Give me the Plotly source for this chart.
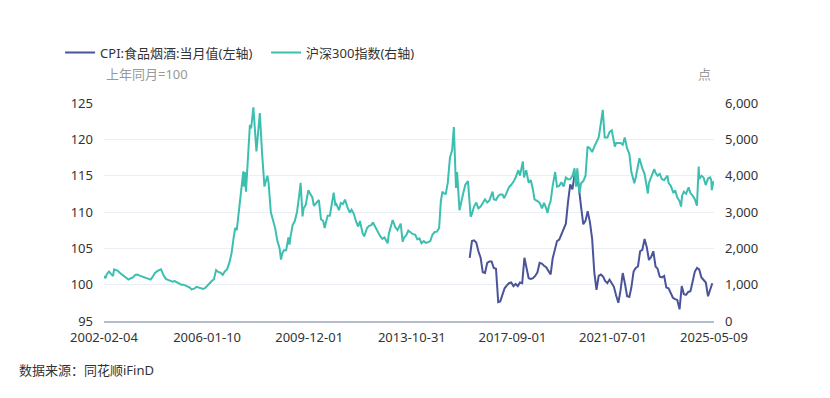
import plotly.graph_objects as go

# ---------------- data ----------------
csi_dates = [
 "2002-02-04","2002-02-25","2002-03-15","2002-04-15","2002-05-15","2002-06-10","2002-06-25","2002-07-15","2002-08-15","2002-09-15","2002-10-15","2002-11-15","2002-12-15",
 "2003-01-10","2003-02-15","2003-03-15","2003-04-15","2003-05-15","2003-06-15","2003-07-15","2003-08-15","2003-09-15","2003-10-15","2003-11-15","2003-12-15",
 "2004-01-15","2004-02-15","2004-03-15","2004-04-08","2004-05-15","2004-06-15","2004-07-15","2004-08-15","2004-09-15","2004-10-15","2004-11-15","2004-12-15",
 "2005-01-15","2005-02-15","2005-03-15","2005-04-15","2005-05-15","2005-06-06","2005-07-15","2005-08-15","2005-09-15","2005-10-15","2005-11-15","2005-12-15",
 "2006-01-15","2006-02-15","2006-03-15","2006-04-15","2006-05-15","2006-06-15","2006-07-15","2006-08-15","2006-09-15","2006-10-15","2006-11-15","2006-12-15",
 "2007-01-15","2007-02-05","2007-02-27","2007-03-18","2007-04-15","2007-05-04","2007-05-29","2007-06-05","2007-06-20","2007-07-05","2007-07-31","2007-08-15","2007-08-29","2007-09-15","2007-10-16","2007-11-28","2007-12-15",
 "2008-01-14","2008-02-15","2008-03-18","2008-04-28","2008-05-15","2008-06-15","2008-07-15","2008-08-15","2008-09-15","2008-10-15","2008-11-04","2008-11-20","2008-12-15",
 "2009-01-15","2009-02-15","2009-03-02","2009-03-15","2009-04-15","2009-05-15","2009-06-15","2009-07-15","2009-08-04","2009-08-31","2009-09-15","2009-10-15","2009-11-20","2009-12-15",
 "2010-01-15","2010-02-05","2010-03-15","2010-04-15","2010-05-15","2010-06-15","2010-07-05","2010-08-15","2010-09-15","2010-10-15","2010-11-08","2010-11-30","2010-12-15",
 "2011-01-20","2011-02-15","2011-03-15","2011-04-15","2011-05-15","2011-06-20","2011-07-15","2011-08-15","2011-09-15","2011-10-15","2011-11-08","2011-12-15",
 "2012-01-06","2012-02-15","2012-03-15","2012-04-15","2012-05-07","2012-06-15","2012-07-15","2012-08-15","2012-09-15","2012-10-15","2012-11-28","2012-12-15",
 "2013-01-15","2013-02-06","2013-03-15","2013-04-15","2013-05-29","2013-06-25","2013-07-15","2013-08-15","2013-09-12","2013-10-15","2013-11-15","2013-12-15",
 "2014-01-15","2014-02-15","2014-03-15","2014-04-15","2014-05-15","2014-06-15","2014-07-15","2014-08-15","2014-09-15","2014-10-15","2014-11-15","2014-12-09","2014-12-31",
 "2015-01-15","2015-02-15","2015-03-15","2015-04-15","2015-05-15","2015-06-08","2015-07-08","2015-07-23","2015-08-26","2015-09-15","2015-10-15","2015-11-15","2015-12-22",
 "2016-01-28","2016-02-15","2016-03-15","2016-04-15","2016-05-15","2016-06-15","2016-07-15","2016-08-15","2016-09-15","2016-10-15","2016-11-29","2016-12-15",
 "2017-01-15","2017-02-15","2017-03-15","2017-04-15","2017-05-10","2017-06-15","2017-07-15","2017-08-15","2017-09-15","2017-10-15","2017-11-22","2017-12-15",
 "2018-01-24","2018-02-09","2018-03-12","2018-04-15","2018-05-15","2018-06-15","2018-07-05","2018-08-15","2018-09-15","2018-10-18","2018-11-15","2018-12-15",
 "2019-01-03","2019-01-20","2019-02-15","2019-03-15","2019-04-19","2019-05-15","2019-06-15","2019-07-15","2019-08-15","2019-09-15","2019-10-15","2019-11-15","2019-12-15",
 "2020-01-14","2020-02-03","2020-02-21","2020-03-23","2020-04-15","2020-05-15","2020-06-15","2020-07-13","2020-08-15","2020-09-15","2020-10-15","2020-11-15","2020-12-15",
 "2021-01-15","2021-02-10","2021-03-09","2021-04-15","2021-05-15","2021-06-15","2021-07-28","2021-08-15","2021-09-15","2021-10-15","2021-11-15","2021-12-13",
 "2022-01-15","2022-02-15","2022-03-15","2022-04-26","2022-05-15","2022-07-05","2022-08-15","2022-09-15","2022-10-31","2022-11-15","2022-12-15",
 "2023-01-28","2023-02-15","2023-03-15","2023-04-15","2023-05-15","2023-06-15","2023-07-31","2023-08-15","2023-09-15","2023-10-23","2023-11-15","2023-12-15",
 "2024-01-15","2024-02-05","2024-02-20","2024-03-15","2024-04-15","2024-05-20","2024-06-15","2024-07-15","2024-08-15","2024-09-13","2024-10-08","2024-10-15","2024-11-15","2024-12-15",
 "2025-01-13","2025-02-15","2025-03-15","2025-04-01","2025-04-08","2025-04-25","2025-05-09",
]
csi_values = [
 1240,1180,1290,1360,1290,1240,1420,1410,1380,1320,1280,1220,1180,
 1140,1180,1200,1270,1280,1250,1230,1210,1180,1160,1140,1220,
 1320,1370,1390,1420,1250,1160,1130,1100,1080,1100,1060,1030,
 1000,1000,980,950,920,870,890,940,920,900,880,910,
 990,1040,1100,1150,1400,1350,1330,1270,1370,1420,1600,1850,
 2300,2560,2500,2830,3350,3660,4120,3700,4100,3560,4470,4800,5400,5300,5880,4670,5000,
 5720,4600,3700,4000,3800,3000,2800,2550,2200,2000,1690,1850,1950,
 1950,2300,2100,2300,2640,2750,3000,3450,3800,2880,3100,3200,3600,3500,
 3400,3170,3250,3330,2800,2750,2560,2900,2900,3300,3530,3200,3220,
 3050,3250,3220,3340,3150,2980,3060,2950,2740,2600,2750,2420,
 2330,2560,2620,2640,2710,2560,2450,2340,2260,2300,2140,2400,
 2620,2780,2580,2500,2680,2180,2300,2360,2490,2450,2390,2380,
 2250,2270,2140,2200,2150,2170,2200,2380,2450,2460,2560,3300,3560,
 3520,3500,3800,4500,4700,5340,3660,4100,3050,3250,3500,3750,3850,
 2870,2950,3150,3260,3100,3150,3250,3350,3260,3320,3560,3350,
 3330,3440,3480,3480,3380,3550,3680,3750,3830,3950,4150,4000,
 4390,3950,4150,3800,3880,3600,3350,3300,3250,3100,3250,3100,
 2970,3150,3300,3720,4100,3700,3720,3820,3700,3950,3900,3900,4000,
 4200,3700,4200,3530,3800,3850,4000,4800,4750,4650,4800,4950,5050,
 5450,5810,5050,5050,5200,5250,4800,4900,4900,4900,4850,5050,
 4750,4600,4100,3790,3950,4480,4200,4050,3510,3800,3950,
 4180,4080,4000,4050,3900,3880,4000,3800,3720,3520,3600,3400,
 3300,3150,3450,3560,3500,3680,3520,3450,3350,3170,4250,3900,4000,3950,
 3740,3920,3950,3880,3600,3790,3850,
]

cpi_months = [f"{y}-{m:02d}-15" for y in range(2016, 2026) for m in range(1, 13)][:112]
cpi_values = [
 103.7,106.0,106.1,105.8,104.6,103.7,101.7,101.6,103.0,103.2,103.2,102.3,   # 2016
 102.2,97.6,97.7,98.5,99.5,99.9,100.2,100.3,99.8,100.1,99.8,100.3,          # 2017
 100.2,103.7,102.3,100.9,100.8,100.9,101.2,101.7,103.0,102.9,102.6,102.4,   # 2018
 101.9,101.4,103.6,104.8,106.0,106.2,106.9,107.6,108.4,111.4,113.8,113.1,   # 2019
 115.2,114.9,113.3,110.6,108.3,108.8,110.1,108.6,106.3,101.7,99.3,101.2,    # 2020
 101.4,101.1,100.5,100.2,100.7,100.2,99.7,98.5,97.5,99.2,101.6,100.2,       # 2021
 98.4,98.3,99.6,101.8,102.3,102.5,104.6,104.8,106.3,105.2,103.4,103.8,      # 2022
 104.6,102.5,102.2,101.1,101.0,101.2,99.6,99.5,98.9,98.2,98.0,97.9,         # 2023
 96.6,99.8,98.7,98.6,99.0,99.1,100.4,101.8,102.3,102.1,101.0,100.6,         # 2024
 100.3,98.4,99.2,100.2,                                                     # 2025
]

x_tick_dates = ["2002-02-04","2006-01-10","2009-12-01","2013-10-31","2017-09-01","2021-07-01","2025-05-09"]
left_ticks = [95,100,105,110,115,120,125]
right_ticks = [0,1000,2000,3000,4000,5000,6000]

name_cpi = "CPI:食品烟酒:当月值(左轴)"
name_csi = "沪深300指数(右轴)"

FONT = "Noto Sans, Noto Sans CJK SC, sans-serif"
TXT = "#333333"

fig = go.Figure()
fig.add_trace(go.Scatter(x=cpi_months, y=cpi_values, name=name_cpi, mode="lines",
                         line=dict(color="#4a5499", width=2), yaxis="y"))
fig.add_trace(go.Scatter(x=csi_dates, y=csi_values, name=name_csi, mode="lines",
                         line=dict(color="#3cbfb0", width=2), yaxis="y2"))

# the page adds an 8px body margin; the figure is sized so the plot lands where the reference has it
fig.update_layout(
    width=822, height=390,
    margin=dict(l=96, r=116, t=95, b=77),
    paper_bgcolor="white", plot_bgcolor="white",
    font=dict(family=FONT, size=13, color=TXT),
    showlegend=True,
    legend=dict(orientation="h", x=-0.072, xanchor="left", y=1.231, yanchor="middle",
                font=dict(size=13, color=TXT), itemwidth=30,
                entrywidth=161, entrywidthmode="pixels", traceorder="normal"),
    xaxis=dict(type="date", range=[x_tick_dates[0], x_tick_dates[-1]],
               tickmode="array", tickvals=x_tick_dates, ticktext=x_tick_dates,
               showgrid=False, showline=True, linecolor="#b7bccf", linewidth=2,
               ticks="", tickfont=dict(size=13, color=TXT), zeroline=False,
               ticklabelstandoff=3),
    yaxis=dict(range=[95, 125], tickmode="array", tickvals=left_ticks,
               showgrid=True, gridcolor="#eceef6", gridwidth=1, zeroline=False,
               ticks="", tickfont=dict(size=13, color=TXT), ticklabelstandoff=10,
               showline=False),
    yaxis2=dict(range=[0, 6000], tickmode="array", tickvals=right_ticks,
                tickformat=",", overlaying="y", side="right", showgrid=False,
                zeroline=False, ticks="", tickfont=dict(size=13, color=TXT),
                ticklabelstandoff=10, showline=False),
    annotations=[
        dict(text="上年同月=100", xref="paper", yref="paper", x=0.0, y=1.133,
             xanchor="left", yanchor="middle", showarrow=False,
             font=dict(size=13, color="#999999")),
        dict(text="点", xref="paper", yref="paper", x=0.998, y=1.133,
             xanchor="right", yanchor="middle", showarrow=False,
             font=dict(size=13, color="#999999")),
        dict(text="数据来源：同花顺iFinD", xref="paper", yref="paper", x=-0.1426, y=-0.2234,
             xanchor="left", yanchor="middle", showarrow=False,
             font=dict(size=13, color=TXT)),
    ],
)

fig.write_html("out.html")
